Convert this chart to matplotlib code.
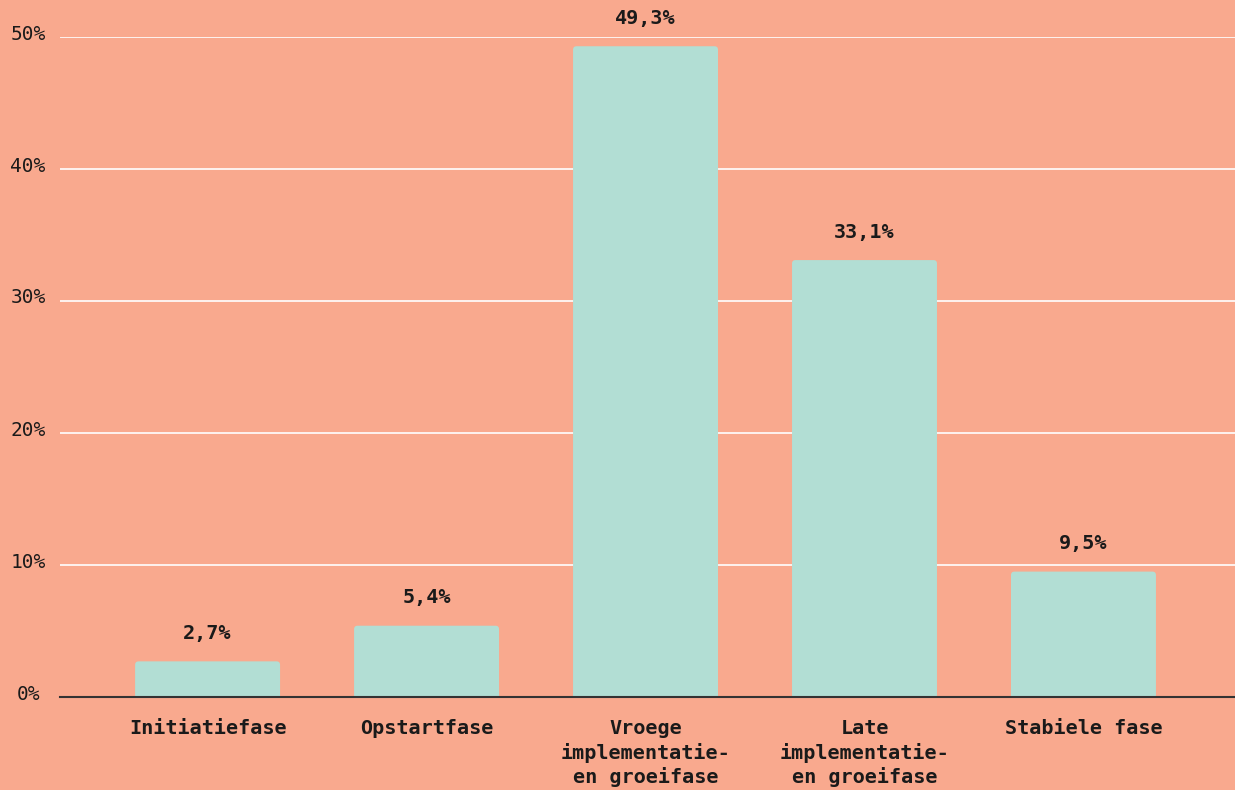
import matplotlib
matplotlib.use("Agg")
import matplotlib.pyplot as plt
from matplotlib.patches import FancyBboxPatch

# Share of respondents per phase
categories = [
    "Initiatiefase",
    "Opstartfase",
    "Vroege\nimplementatie-\nen groeifase",
    "Late\nimplementatie-\nen groeifase",
    "Stabiele fase",
]
values = [2.7, 5.4, 49.3, 33.1, 9.5]
value_labels = ["2,7%", "5,4%", "49,3%", "33,1%", "9,5%"]
y_ticks = [0, 10, 20, 30, 40, 50]
y_tick_labels = ["0%", "10%", "20%", "30%", "40%", "50%"]

BG = "#F9A98E"
BAR = "#B2DED4"
INK = "#1a1a1a"
FONT = "DejaVu Sans Mono"

W, H = 1235, 790
fig = plt.figure(figsize=(W / 100, H / 100), dpi=100, facecolor=BG)
ax = fig.add_axes([60 / W, (H - 697) / H, (W - 60) / W, (697 - 37) / H])
ax.set_facecolor(BG)

x = list(range(len(categories)))
bars = ax.bar(x, values, width=0.662, color=BAR, zorder=2)

ax.set_xlim(-0.674, 4.692)
ax.set_ylim(0, 50)

# Swap the plain rectangles for ones with slightly rounded top corners
fig.canvas.draw()
bb = ax.get_window_extent()
px_per_x = bb.width / (ax.get_xlim()[1] - ax.get_xlim()[0])
px_per_y = bb.height / (ax.get_ylim()[1] - ax.get_ylim()[0])
radius_px = 3.5
for rect in bars:
    rect.set_visible(False)
    below = radius_px / px_per_y
    patch = FancyBboxPatch(
        (rect.get_x(), -below), rect.get_width(), rect.get_height() + below,
        boxstyle=f"round,pad=0,rounding_size={radius_px / px_per_x}",
        mutation_aspect=px_per_x / px_per_y,
        facecolor=BAR, edgecolor="none", zorder=2)
    ax.add_patch(patch)

# horizontal white grid
ax.set_axisbelow(True)
ax.yaxis.grid(True, color="white", linewidth=1.2)
ax.set_yticks(y_ticks)
ax.set_yticklabels([])
for t, lab in zip(y_ticks, y_tick_labels):
    ax.annotate(lab, xy=(0, t), xycoords=("figure fraction", "data"),
                xytext=(28, 3), textcoords="offset pixels",
                ha="center", va="center", fontsize=14, family=FONT,
                color=INK, annotation_clip=False)
ax.tick_params(axis="y", length=0)

ax.set_xticks(x)
ax.set_xticklabels(categories, family=FONT, fontsize=14.5, color=INK,
                   fontweight="semibold", linespacing=1.28)
ax.tick_params(axis="x", length=0, pad=16)

for s in ["top", "right", "left"]:
    ax.spines[s].set_visible(False)
ax.spines["bottom"].set_color("#333333")
ax.spines["bottom"].set_linewidth(1.5)
ax.spines["bottom"].set_zorder(3)

for rect, lab in zip(bars, value_labels):
    ax.annotate(lab, xy=(rect.get_x() + rect.get_width() / 2, rect.get_height()),
                xytext=(0, 28), textcoords="offset pixels",
                ha="center", va="center", fontsize=14.5, family=FONT,
                fontweight="semibold", color=INK, annotation_clip=False)

fig.savefig("out.png", dpi=100, facecolor=BG)
